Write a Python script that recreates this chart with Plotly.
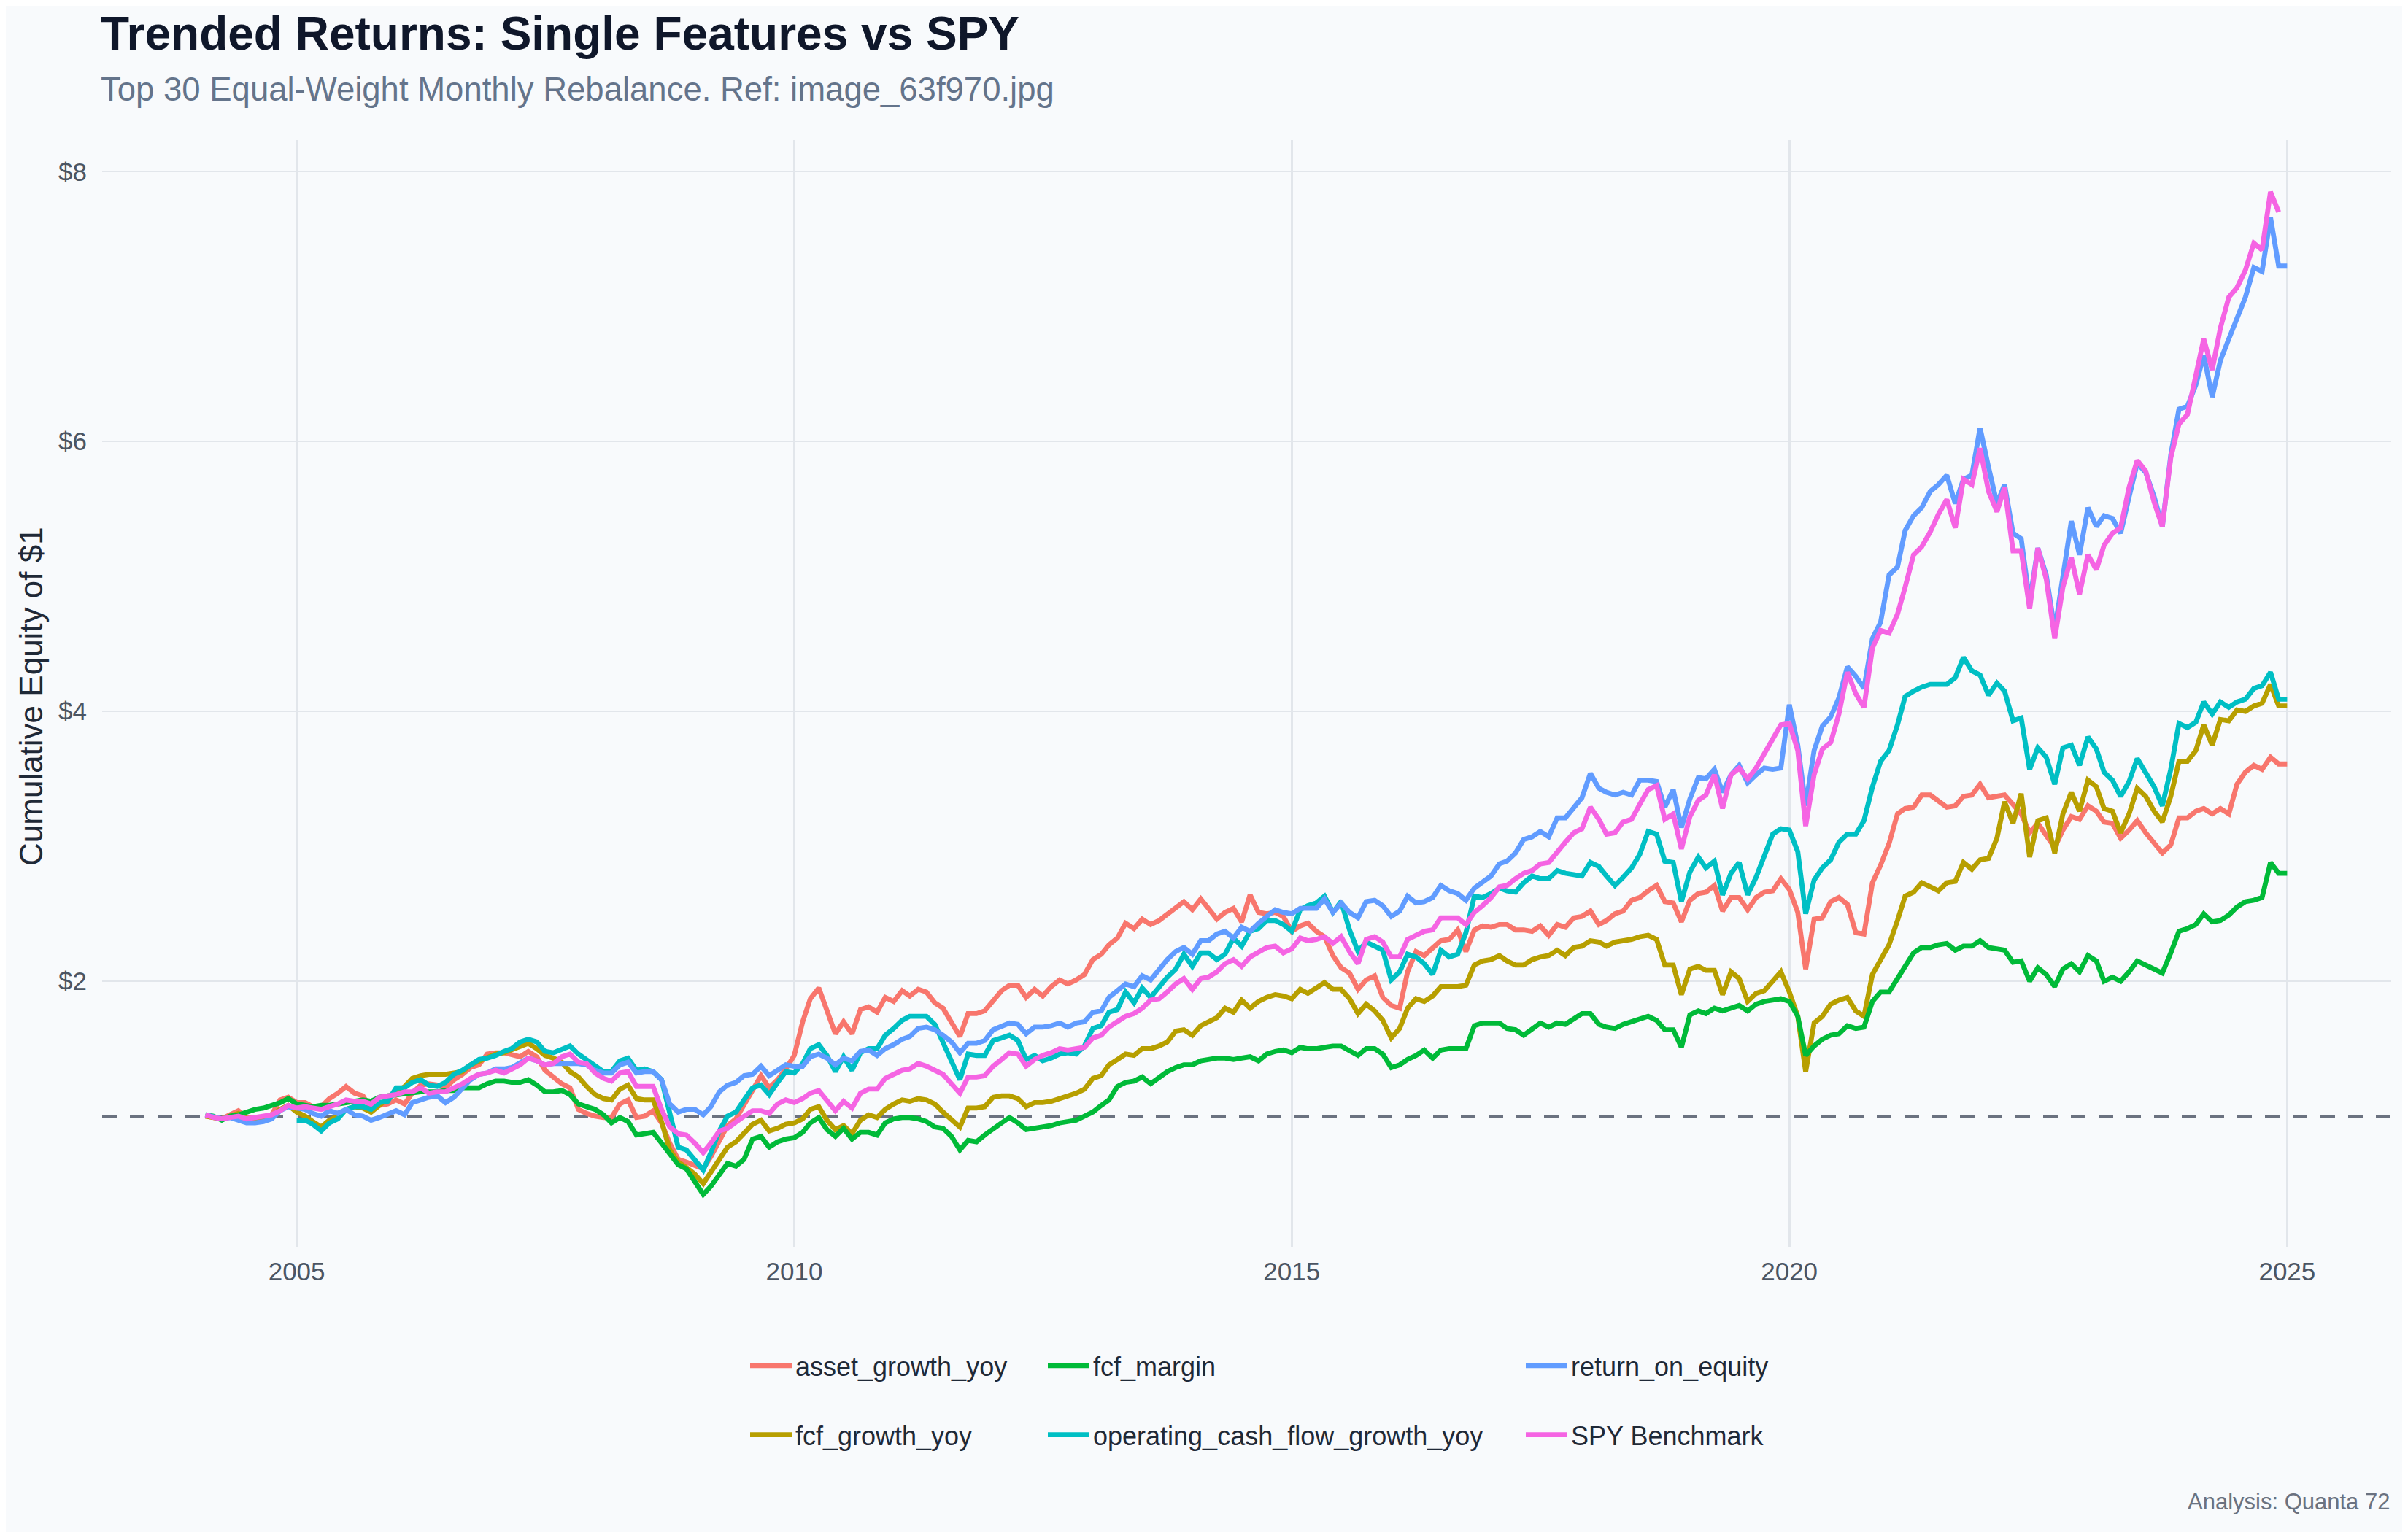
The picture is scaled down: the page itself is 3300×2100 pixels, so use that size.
import pandas as pd
import plotly.graph_objects as go

# monthly observation dates (Feb 2004 .. Jan 2025)
dates = pd.date_range("2004-02-01", periods=252, freq="MS")

asset_growth_yoy = [
    1.00, 0.99, 0.98, 1.01, 1.04, 0.99, 0.99, 0.99, 1.01, 1.12,
    1.14, 1.10, 1.10, 1.07, 1.07, 1.13, 1.17, 1.22, 1.17, 1.15,
    1.05, 1.08, 1.09, 1.12, 1.09, 1.17, 1.23, 1.24, 1.23, 1.21,
    1.27, 1.31, 1.36, 1.38, 1.46, 1.47, 1.47, 1.46, 1.44, 1.48,
    1.44, 1.34, 1.29, 1.24, 1.21, 1.05, 1.02, 1.00, 0.99, 0.99,
    1.09, 1.12, 0.99, 1.00, 1.04, 0.95, 0.80, 0.68, 0.66, 0.63,
    0.61, 0.70, 0.82, 0.93, 0.98, 1.08, 1.20, 1.30, 1.21, 1.27,
    1.35, 1.45, 1.70, 1.87, 1.95, 1.78, 1.61, 1.70, 1.61, 1.79,
    1.81, 1.77, 1.88, 1.85, 1.93, 1.89, 1.94, 1.92, 1.84, 1.80,
    1.70, 1.59, 1.76, 1.76, 1.78, 1.85, 1.93, 1.97, 1.97, 1.88,
    1.94, 1.89, 1.96, 2.01, 1.98, 2.01, 2.05, 2.16, 2.20, 2.27,
    2.32, 2.43, 2.39, 2.46, 2.42, 2.45, 2.50, 2.54, 2.59, 2.53,
    2.61, 2.54, 2.46, 2.51, 2.54, 2.44, 2.64, 2.51, 2.50, 2.51,
    2.48, 2.37, 2.41, 2.43, 2.37, 2.33, 2.19, 2.10, 2.06, 1.94,
    2.01, 2.04, 1.88, 1.82, 1.80, 2.07, 2.22, 2.19, 2.25, 2.30,
    2.31, 2.38, 2.22, 2.38, 2.41, 2.40, 2.42, 2.42, 2.38, 2.38,
    2.37, 2.41, 2.34, 2.42, 2.40, 2.47, 2.48, 2.52, 2.42, 2.45,
    2.50, 2.52, 2.60, 2.62, 2.67, 2.71, 2.59, 2.58, 2.44, 2.60,
    2.65, 2.66, 2.71, 2.52, 2.62, 2.62, 2.53, 2.62, 2.66, 2.67,
    2.76, 2.68, 2.51, 2.09, 2.46, 2.47, 2.59, 2.62, 2.57, 2.36,
    2.35, 2.73, 2.86, 3.02, 3.24, 3.28, 3.29, 3.38, 3.38, 3.34,
    3.29, 3.30, 3.37, 3.38, 3.46, 3.36, 3.37, 3.38, 3.31, 3.24,
    3.10, 3.17, 3.08, 2.99, 3.12, 3.22, 3.20, 3.30, 3.26, 3.18,
    3.17, 3.06, 3.12, 3.19, 3.10, 3.03, 2.95, 3.01, 3.21, 3.21,
    3.26, 3.28, 3.24, 3.28, 3.24, 3.46, 3.55, 3.60, 3.57, 3.66,
    3.61, 3.61,
]

fcf_growth_yoy = [
    1.00, 0.99, 0.98, 1.00, 1.02, 0.98, 0.97, 0.98, 1.00, 1.05,
    1.08, 1.03, 1.00, 0.96, 0.92, 0.97, 1.00, 1.05, 1.07, 1.06,
    1.03, 1.08, 1.13, 1.18, 1.22, 1.28, 1.30, 1.31, 1.31, 1.31,
    1.32, 1.33, 1.38, 1.41, 1.43, 1.46, 1.47, 1.49, 1.51, 1.54,
    1.50, 1.45, 1.43, 1.40, 1.33, 1.29, 1.22, 1.16, 1.13, 1.12,
    1.20, 1.23, 1.13, 1.12, 1.12, 0.96, 0.75, 0.66, 0.62, 0.57,
    0.50, 0.59, 0.69, 0.77, 0.81, 0.88, 0.94, 0.97, 0.89, 0.91,
    0.94, 0.95, 0.98, 1.05, 1.07, 0.97, 0.90, 0.93, 0.87, 0.97,
    1.01, 0.99, 1.05, 1.09, 1.12, 1.11, 1.13, 1.12, 1.09, 1.03,
    0.97, 0.92, 1.06, 1.06, 1.07, 1.14, 1.15, 1.15, 1.13, 1.07,
    1.10, 1.10, 1.11, 1.13, 1.15, 1.17, 1.20, 1.28, 1.30, 1.38,
    1.42, 1.46, 1.45, 1.50, 1.50, 1.52, 1.55, 1.63, 1.64, 1.60,
    1.67, 1.70, 1.73, 1.80, 1.77, 1.86, 1.80, 1.85, 1.88, 1.90,
    1.89, 1.87, 1.94, 1.91, 1.95, 1.99, 1.94, 1.94, 1.87, 1.76,
    1.83, 1.78, 1.71, 1.58, 1.65, 1.80, 1.87, 1.85, 1.89, 1.96,
    1.96, 1.96, 1.97, 2.12, 2.15, 2.16, 2.19, 2.15, 2.12, 2.12,
    2.16, 2.18, 2.19, 2.23, 2.19, 2.25, 2.26, 2.30, 2.29, 2.26,
    2.29, 2.30, 2.31, 2.33, 2.34, 2.31, 2.12, 2.12, 1.90, 2.09,
    2.11, 2.08, 2.08, 1.90, 2.07, 2.02, 1.85, 1.91, 1.93, 2.00,
    2.07, 1.92, 1.74, 1.33, 1.69, 1.74, 1.83, 1.86, 1.88, 1.78,
    1.74, 2.05, 2.16, 2.27, 2.45, 2.63, 2.66, 2.73, 2.70, 2.67,
    2.73, 2.74, 2.88, 2.83, 2.90, 2.91, 3.06, 3.33, 3.17, 3.39,
    2.92, 3.19, 3.21, 2.95, 3.24, 3.40, 3.26, 3.49, 3.44, 3.28,
    3.26, 3.10, 3.24, 3.43, 3.37, 3.26, 3.18, 3.37, 3.63, 3.63,
    3.71, 3.90, 3.75, 3.94, 3.93, 4.01, 4.00, 4.04, 4.06, 4.20,
    4.04, 4.04,
]

fcf_margin = [
    1.01, 1.00, 0.97, 1.00, 1.01, 1.03, 1.05, 1.06, 1.08, 1.10,
    1.13, 1.09, 1.08, 1.07, 1.08, 1.08, 1.09, 1.10, 1.11, 1.12,
    1.11, 1.14, 1.15, 1.16, 1.17, 1.17, 1.18, 1.18, 1.18, 1.19,
    1.19, 1.21, 1.21, 1.21, 1.24, 1.26, 1.26, 1.25, 1.25, 1.27,
    1.23, 1.18, 1.18, 1.19, 1.16, 1.09, 1.07, 1.05, 1.01, 0.95,
    0.99, 0.96, 0.86, 0.87, 0.88, 0.80, 0.72, 0.64, 0.61, 0.51,
    0.42, 0.48, 0.56, 0.65, 0.63, 0.68, 0.83, 0.85, 0.77, 0.81,
    0.83, 0.84, 0.88, 0.95, 0.99, 0.90, 0.85, 0.91, 0.83, 0.88,
    0.88, 0.86, 0.95, 0.98, 0.99, 0.99, 0.98, 0.96, 0.92, 0.91,
    0.85, 0.75, 0.82, 0.81, 0.86, 0.91, 0.95, 0.99, 0.95, 0.90,
    0.91, 0.92, 0.93, 0.95, 0.96, 0.97, 1.00, 1.03, 1.08, 1.12,
    1.22, 1.25, 1.26, 1.29, 1.24, 1.29, 1.33, 1.36, 1.38, 1.38,
    1.41, 1.42, 1.43, 1.43, 1.42, 1.43, 1.44, 1.41, 1.46, 1.48,
    1.49, 1.47, 1.51, 1.50, 1.50, 1.51, 1.52, 1.52, 1.48, 1.45,
    1.50, 1.50, 1.46, 1.36, 1.38, 1.42, 1.45, 1.49, 1.43, 1.49,
    1.50, 1.50, 1.50, 1.67, 1.69, 1.69, 1.69, 1.65, 1.64, 1.60,
    1.65, 1.69, 1.66, 1.69, 1.68, 1.72, 1.76, 1.76, 1.68, 1.66,
    1.65, 1.68, 1.70, 1.72, 1.74, 1.71, 1.64, 1.64, 1.51, 1.75,
    1.78, 1.76, 1.80, 1.78, 1.80, 1.82, 1.78, 1.83, 1.85, 1.86,
    1.87, 1.85, 1.74, 1.45, 1.52, 1.57, 1.60, 1.61, 1.67, 1.65,
    1.66, 1.85, 1.92, 1.92, 2.02, 2.10, 2.21, 2.25, 2.25, 2.27,
    2.28, 2.23, 2.26, 2.26, 2.30, 2.25, 2.24, 2.23, 2.14, 2.15,
    2.00, 2.10, 2.05, 1.96, 2.09, 2.13, 2.07, 2.19, 2.15, 2.00,
    2.03, 2.00, 2.07, 2.15, 2.12, 2.09, 2.06, 2.21, 2.37, 2.39,
    2.42, 2.50, 2.44, 2.45, 2.49, 2.55, 2.59, 2.60, 2.62, 2.88,
    2.80, 2.80,
]

# starts one year later, Jan 2005
operating_cash_flow_growth_yoy = [
    0.97, 0.97, 0.94, 0.89, 0.95, 0.98, 1.05, 1.07, 1.07,
    1.05, 1.10, 1.11, 1.21, 1.21, 1.25, 1.27, 1.23, 1.22, 1.25,
    1.31, 1.34, 1.38, 1.42, 1.43, 1.45, 1.48, 1.50, 1.55, 1.57,
    1.55, 1.48, 1.47, 1.50, 1.52, 1.46, 1.42, 1.37, 1.33, 1.33,
    1.41, 1.43, 1.34, 1.35, 1.33, 1.27, 1.04, 0.77, 0.75, 0.68,
    0.60, 0.73, 0.89, 1.00, 1.03, 1.12, 1.21, 1.23, 1.16, 1.25,
    1.33, 1.32, 1.39, 1.50, 1.53, 1.45, 1.33, 1.44, 1.34, 1.47,
    1.50, 1.50, 1.60, 1.65, 1.71, 1.74, 1.74, 1.74, 1.68, 1.55,
    1.40, 1.27, 1.46, 1.45, 1.45, 1.56, 1.58, 1.60, 1.56, 1.42,
    1.45, 1.41, 1.43, 1.46, 1.47, 1.46, 1.52, 1.65, 1.67, 1.77,
    1.79, 1.92, 1.84, 1.95, 1.88, 1.96, 2.03, 2.09, 2.20, 2.11,
    2.21, 2.21, 2.16, 2.20, 2.32, 2.26, 2.37, 2.39, 2.45, 2.45,
    2.42, 2.37, 2.53, 2.56, 2.58, 2.63, 2.51, 2.59, 2.38, 2.22,
    2.29, 2.26, 2.23, 2.01, 2.07, 2.20, 2.18, 2.13, 2.05, 2.23,
    2.18, 2.20, 2.36, 2.63, 2.62, 2.65, 2.69, 2.67, 2.66, 2.73,
    2.78, 2.76, 2.76, 2.82, 2.80, 2.79, 2.78, 2.88, 2.85, 2.78,
    2.71, 2.77, 2.84, 2.94, 3.11, 3.09, 2.89, 2.88, 2.59, 2.81,
    2.92, 2.84, 2.89, 2.64, 2.80, 2.88, 2.64, 2.77, 2.92, 3.09,
    3.13, 3.12, 2.96, 2.50, 2.75, 2.84, 2.90, 3.03, 3.09, 3.09,
    3.19, 3.44, 3.63, 3.71, 3.90, 4.11, 4.15, 4.18, 4.20, 4.20,
    4.20, 4.25, 4.40, 4.30, 4.27, 4.12, 4.21, 4.15, 3.93, 3.95,
    3.57, 3.73, 3.66, 3.46, 3.73, 3.75, 3.60, 3.81, 3.72, 3.55,
    3.49, 3.37, 3.48, 3.65, 3.55, 3.44, 3.30, 3.57, 3.91, 3.88,
    3.92, 4.07, 3.98, 4.07, 4.03, 4.07, 4.09, 4.17, 4.19, 4.29,
    4.09, 4.09,
]

return_on_equity = [
    1.01, 1.00, 0.98, 0.99, 0.97, 0.95, 0.95, 0.96, 0.98, 1.04,
    1.07, 1.06, 1.05, 1.02, 1.00, 1.04, 1.02, 1.05, 1.01, 1.00,
    0.97, 0.99, 1.01, 1.04, 1.01, 1.10, 1.12, 1.14, 1.15, 1.10,
    1.14, 1.20, 1.27, 1.31, 1.32, 1.35, 1.35, 1.36, 1.40, 1.43,
    1.41, 1.38, 1.39, 1.39, 1.39, 1.39, 1.38, 1.34, 1.32, 1.32,
    1.38, 1.40, 1.32, 1.33, 1.33, 1.27, 1.09, 1.03, 1.05, 1.05,
    1.01, 1.07, 1.18, 1.23, 1.25, 1.30, 1.31, 1.37, 1.30, 1.34,
    1.38, 1.37, 1.37, 1.44, 1.46, 1.43, 1.38, 1.43, 1.41, 1.48,
    1.49, 1.45, 1.50, 1.53, 1.57, 1.59, 1.65, 1.66, 1.64, 1.60,
    1.55, 1.47, 1.54, 1.54, 1.56, 1.64, 1.67, 1.69, 1.68, 1.61,
    1.66, 1.66, 1.67, 1.69, 1.66, 1.69, 1.70, 1.77, 1.78, 1.88,
    1.93, 1.98, 1.96, 2.04, 2.01, 2.09, 2.16, 2.22, 2.25, 2.20,
    2.30, 2.30, 2.35, 2.37, 2.32, 2.40, 2.37, 2.43, 2.48, 2.53,
    2.51, 2.50, 2.54, 2.54, 2.54, 2.61, 2.51, 2.58, 2.51, 2.47,
    2.59, 2.60, 2.56, 2.48, 2.52, 2.63, 2.58, 2.59, 2.62, 2.71,
    2.67, 2.65, 2.60, 2.69, 2.73, 2.78, 2.87, 2.89, 2.95, 3.05,
    3.07, 3.11, 3.07, 3.21, 3.21, 3.29, 3.36, 3.54, 3.43, 3.40,
    3.38, 3.40, 3.38, 3.49, 3.49, 3.48, 3.29, 3.42, 3.14, 3.35,
    3.51, 3.50, 3.57, 3.40, 3.53, 3.60, 3.47, 3.53, 3.58, 3.57,
    3.58, 4.05, 3.75, 3.30, 3.71, 3.89, 3.96, 4.10, 4.33, 4.26,
    4.17, 4.54, 4.66, 5.01, 5.07, 5.34, 5.45, 5.51, 5.63, 5.68,
    5.75, 5.54, 5.72, 5.75, 6.10, 5.81, 5.54, 5.68, 5.32, 5.28,
    4.81, 5.21, 5.01, 4.60, 4.98, 5.41, 5.16, 5.51, 5.37, 5.45,
    5.43, 5.32, 5.59, 5.84, 5.77, 5.59, 5.37, 5.90, 6.24, 6.26,
    6.42, 6.64, 6.33, 6.60, 6.76, 6.91, 7.07, 7.29, 7.26, 7.66,
    7.30, 7.30,
]

# benchmark ends Dec 2024
spy_benchmark = [
    1.01, 0.99, 0.98, 0.99, 1.00, 0.98, 0.99, 1.00, 1.01, 1.04,
    1.08, 1.06, 1.07, 1.06, 1.05, 1.07, 1.09, 1.12, 1.11, 1.11,
    1.09, 1.14, 1.15, 1.16, 1.18, 1.18, 1.21, 1.17, 1.18, 1.18,
    1.21, 1.24, 1.28, 1.31, 1.32, 1.34, 1.32, 1.35, 1.38, 1.43,
    1.41, 1.38, 1.39, 1.44, 1.46, 1.40, 1.39, 1.32, 1.28, 1.26,
    1.32, 1.33, 1.22, 1.22, 1.22, 1.05, 0.92, 0.87, 0.86, 0.80,
    0.73, 0.80, 0.89, 0.91, 0.96, 1.00, 1.04, 1.04, 1.02, 1.09,
    1.12, 1.10, 1.13, 1.17, 1.19, 1.12, 1.04, 1.11, 1.06, 1.17,
    1.20, 1.20, 1.28, 1.31, 1.34, 1.35, 1.39, 1.37, 1.34, 1.31,
    1.24, 1.17, 1.29, 1.29, 1.30, 1.37, 1.42, 1.47, 1.46, 1.37,
    1.42, 1.45, 1.47, 1.50, 1.49, 1.50, 1.51, 1.58, 1.60, 1.66,
    1.70, 1.74, 1.76, 1.80, 1.86, 1.87, 1.92, 1.98, 2.02, 1.94,
    2.02, 2.03, 2.07, 2.13, 2.16, 2.11, 2.18, 2.22, 2.25, 2.26,
    2.21, 2.24, 2.32, 2.30, 2.31, 2.33, 2.28, 2.33, 2.22, 2.13,
    2.31, 2.33, 2.29, 2.18, 2.18, 2.31, 2.34, 2.37, 2.38, 2.47,
    2.47, 2.47, 2.42, 2.51, 2.56, 2.62, 2.70, 2.71, 2.76, 2.80,
    2.82, 2.87, 2.88, 2.96, 3.03, 3.10, 3.13, 3.29, 3.20, 3.09,
    3.10, 3.18, 3.20, 3.31, 3.42, 3.45, 3.20, 3.24, 2.98, 3.22,
    3.34, 3.38, 3.53, 3.28, 3.53, 3.58, 3.50, 3.58, 3.68, 3.80,
    3.90, 3.91, 3.71, 3.15, 3.53, 3.72, 3.77, 3.98, 4.29, 4.13,
    4.03, 4.47, 4.60, 4.58, 4.72, 4.92, 5.16, 5.22, 5.33, 5.46,
    5.57, 5.36, 5.72, 5.68, 5.95, 5.63, 5.48, 5.66, 5.19, 5.19,
    4.76, 5.21, 4.98, 4.54, 4.92, 5.14, 4.87, 5.16, 5.05, 5.23,
    5.32, 5.36, 5.66, 5.86, 5.78, 5.55, 5.37, 5.88, 6.13, 6.20,
    6.49, 6.76, 6.53, 6.84, 7.07, 7.14, 7.27, 7.47, 7.42, 7.85,
    7.70,
]

y_ticks = [2, 4, 6, 8]
y_tick_labels = ["$2", "$4", "$6", "$8"]

BG = "#f8fafc"
FONT = "Liberation Sans, Arial, Helvetica, sans-serif"
GRID = "#e2e6eb"

# name, values, first month index, colour, legend column
series = [
    ("asset_growth_yoy", asset_growth_yoy, 0, "#F8766D", "legend"),
    ("fcf_growth_yoy", fcf_growth_yoy, 0, "#B79F00", "legend"),
    ("fcf_margin", fcf_margin, 0, "#00BA38", "legend2"),
    ("operating_cash_flow_growth_yoy", operating_cash_flow_growth_yoy, 11, "#00BFC4", "legend2"),
    ("return_on_equity", return_on_equity, 0, "#619CFF", "legend3"),
    ("SPY Benchmark", spy_benchmark, 0, "#F564E3", "legend3"),
]

fig = go.Figure()

for name, vals, start, color, leg in series:
    fig.add_trace(go.Scatter(
        x=dates[start:start + len(vals)], y=vals,
        mode="lines", name=name,
        line=dict(color=color, width=6.8),
        legend=leg, legendgroup=name,
    ))

# break-even reference line at $1
fig.add_shape(type="line", xref="paper", yref="y", x0=0, x1=1, y0=1, y1=1,
              line=dict(color="#6b7280", width=4, dash="20px,18px"), layer="below")

# page body has an 8px offset, so container positions are shifted by it
leg_style = dict(
    orientation="v", xref="container", yref="container",
    xanchor="left", yanchor="top", y=1 - 1834 / 2100,
    bgcolor="rgba(0,0,0,0)", borderwidth=0,
    font=dict(family=FONT, size=36, color="#1f2937"),
    itemwidth=57, tracegroupgap=45,
)

PW = 3137  # plot width in px
PH = 1517  # plot height in px

fig.update_layout(
    width=3300, height=2100,
    paper_bgcolor=BG, plot_bgcolor=BG,
    margin=dict(l=132, r=31, t=184, b=399, autoexpand=False),
    font=dict(family=FONT, size=35, color="#1f2937"),
    showlegend=True,
    legend=dict(leg_style, x=1015 / 3300),
    legend2=dict(leg_style, x=1423 / 3300),
    legend3=dict(leg_style, x=2078 / 3300),
    xaxis=dict(
        type="date", range=["2003-01-18", "2026-01-18"],
        dtick="M60", tick0="2005-01-01", tickformat="%Y",
        showgrid=True, gridcolor=GRID, gridwidth=2.6,
        zeroline=False, showline=False, ticks="",
        tickfont=dict(family=FONT, size=35, color="#4b5563"),
        ticklabelstandoff=10,
        automargin=False,
    ),
    yaxis=dict(
        range=[0.032, 8.234],
        tickvals=y_ticks, ticktext=y_tick_labels,
        showgrid=True, gridcolor=GRID, gridwidth=2.2,
        zeroline=False, showline=False, ticks="",
        tickfont=dict(family=FONT, size=35, color="#4b5563"),
        ticklabelstandoff=20,
        automargin=False,
    ),
    annotations=[
        dict(text="<b>Trended Returns: Single Features vs SPY</b>",
             xref="paper", yref="paper", x=-4 / PW, y=(1709 - 46) / PH,
             xanchor="left", yanchor="middle", showarrow=False,
             font=dict(family=FONT, size=64, color="#0f172a")),
        dict(text="Top 30 Equal-Weight Monthly Rebalance. Ref: image_63f970.jpg",
             xref="paper", yref="paper", x=-4 / PW, y=(1709 - 123) / PH,
             xanchor="left", yanchor="middle", showarrow=False,
             font=dict(family=FONT, size=45.5, color="#64748b")),
        dict(text="Cumulative Equity of $1",
             xref="paper", yref="paper", x=(43 - 140) / PW, y=(1709 - 955) / PH,
             xanchor="center", yanchor="middle", textangle=-90, showarrow=False,
             font=dict(family=FONT, size=44, color="#1f2937")),
        dict(text="Analysis: Quanta 72",
             xref="paper", yref="paper", x=1, y=(1709 - 2058) / PH,
             xanchor="right", yanchor="middle", showarrow=False,
             font=dict(family=FONT, size=31, color="#6b7280")),
    ],
)

fig.write_html("out.html")
